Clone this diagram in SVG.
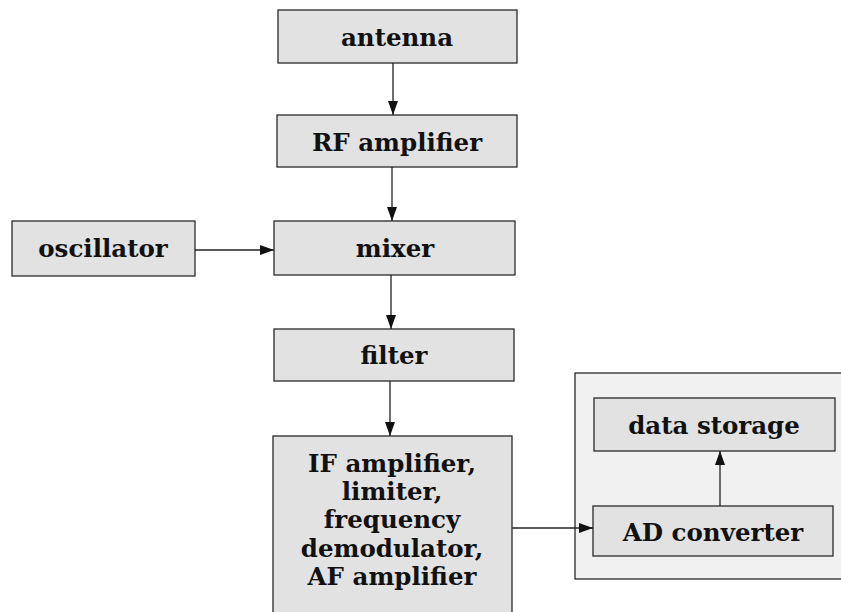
<svg xmlns="http://www.w3.org/2000/svg" width="841" height="612" viewBox="0 0 841 612">
  <style>
    .box { fill: #e2e2e2; stroke: #2a2a2a; stroke-width: 1.3; }
    .frame { fill: #f1f1f1; stroke: #2a2a2a; stroke-width: 1.3; }
    .label { font-family: "DejaVu Serif", "Liberation Serif", serif; font-weight: bold; font-size: 24.5px; fill: #111; text-anchor: middle; }
    .wire { stroke: #222; stroke-width: 1.3; fill: none; marker-end: url(#arrow); }
  </style>
  <defs>
    <marker id="arrow" viewBox="0 0 14 10" refX="14" refY="5" markerWidth="14" markerHeight="10" markerUnits="userSpaceOnUse" orient="auto">
      <path d="M0,0 L14,5 L0,10 Z" fill="#111"/>
    </marker>
  </defs>
  <rect width="841" height="612" fill="#fff"/>

  <!-- receiver chain -->
  <g id="antenna">
    <rect class="box" x="278" y="10" width="239" height="53"/>
    <text class="label" x="397" y="46">antenna</text>
  </g>
  <g id="rf-amplifier">
    <rect class="box" x="277" y="115" width="240" height="52"/>
    <text class="label" x="397" y="151">RF amplifier</text>
  </g>
  <g id="oscillator">
    <rect class="box" x="12" y="221" width="183" height="55"/>
    <text class="label" x="103" y="257">oscillator</text>
  </g>
  <g id="mixer">
    <rect class="box" x="274" y="221" width="241" height="54"/>
    <text class="label" x="395" y="257">mixer</text>
  </g>
  <g id="filter">
    <rect class="box" x="274" y="329" width="240" height="52"/>
    <text class="label" x="394" y="364">filter</text>
  </g>
  <g id="if-stage">
    <rect class="box" x="273" y="436" width="239" height="190"/>
    <text class="label" x="392" y="472">IF amplifier,</text>
    <text class="label" x="392" y="500">limiter,</text>
    <text class="label" x="392" y="528">frequency</text>
    <text class="label" x="392" y="557">demodulator,</text>
    <text class="label" x="392" y="585">AF amplifier</text>
  </g>

  <!-- recording unit -->
  <g id="recorder">
    <rect class="frame" x="575" y="373" width="290" height="206"/>
  </g>
  <g id="data-storage">
    <rect class="box" x="594" y="398" width="241" height="53"/>
    <text class="label" x="714" y="434">data storage</text>
  </g>
  <g id="ad-converter">
    <rect class="box" x="593" y="506" width="240" height="50"/>
    <text class="label" x="713" y="541">AD converter</text>
  </g>

  <g id="connectors">
    <line class="wire" x1="393" y1="63" x2="393" y2="115"/>
    <line class="wire" x1="392" y1="167" x2="392" y2="221"/>
    <line class="wire" x1="195" y1="250" x2="274" y2="250"/>
    <line class="wire" x1="391" y1="275" x2="391" y2="329"/>
    <line class="wire" x1="390" y1="381" x2="390" y2="436"/>
    <line class="wire" x1="512" y1="528" x2="593" y2="528"/>
    <line class="wire" x1="720" y1="506" x2="720" y2="451"/>
  </g>
</svg>
